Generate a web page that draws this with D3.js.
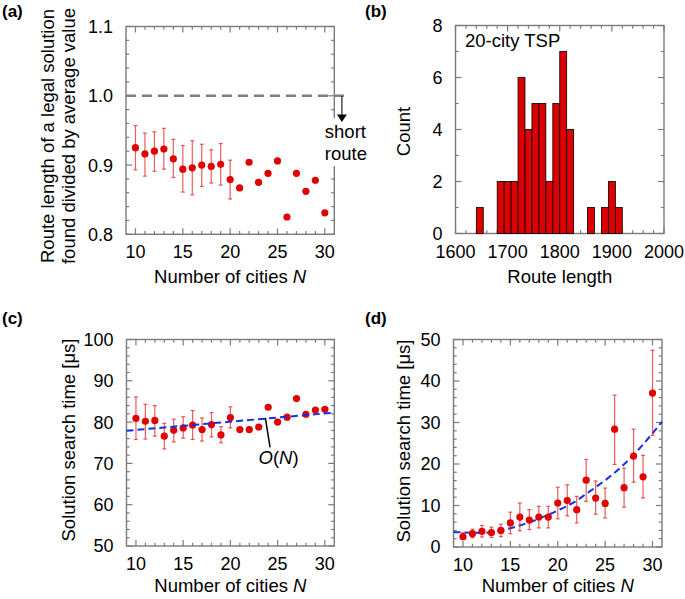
<!DOCTYPE html>
<html><head><meta charset="utf-8">
<script src="https://cdn.jsdelivr.net/npm/d3@7"></script>
<style>
body{margin:0;background:#fff}
svg{display:block}
text{font-family:"Liberation Sans", Arial, Helvetica, sans-serif; fill:#000}
</style>
</head><body>
<svg id="fig" width="685" height="599"></svg>
<script>
// ---------- data ----------
const cities = [10,11,12,13,14,15,16,17,18,19,20,21,22,23,24,25,26,27,28,29,30];

// (a) route length / average
const ratioMean  = [0.925,0.916,0.920,0.923,0.909,0.894,0.896,0.900,0.898,0.901,0.879,0.867,0.904,0.875,0.888,0.906,0.825,0.888,0.862,0.878,0.831];
const ratioUpper = [0.957,0.946,0.948,0.953,0.937,0.928,0.935,0.930,0.922,0.931,0.907,null,null,null,null,null,null,null,null,null,null];
const ratioLower = [0.893,0.884,0.891,0.894,0.882,0.861,0.857,0.869,0.874,0.871,0.851,null,null,null,null,null,null,null,null,null,null];
const averageLevel = 1.0;

// (b) histogram, 20-city TSP
const binStart = [1640,1680,1693.3,1706.7,1720,1733.3,1746.7,1760,1773.3,1786.7,1800,1813.3,1853.3,1880,1893.3,1906.7];
const binEnd   = [1653.3,1693.3,1706.7,1720,1733.3,1746.7,1760,1773.3,1786.7,1800,1813.3,1826.7,1866.7,1893.3,1906.7,1920];
const binCount = [1,2,2,2,6,4,5,5,2,5,7,4,1,1,2,1];

// (c) solution search time (O(N) region)
const timeC      = [80.9,80.2,80.4,76.6,78.0,78.6,79.3,78.2,79.4,76.9,81.1,78.2,78.2,78.8,83.6,80.0,81.2,85.7,81.9,82.9,83.1];
const timeCUpper = [86.1,84.3,84.0,79.7,80.7,81.3,82.8,81.0,82.3,78.9,83.7,null,null,null,null,null,null,null,null,null,null];
const timeCLower = [75.8,75.9,76.6,73.5,75.2,76.1,75.8,75.4,76.4,75.0,78.6,null,null,null,null,null,null,null,null,null,null];
const fitCN = [9, 31];
const fitCT = [77.9, 82.3];

// (d) solution search time
const timeD      = [2.5,3.2,3.8,3.5,4.0,5.8,7.2,6.5,7.2,7.2,10.6,11.2,9.0,16.1,11.8,10.5,28.4,14.3,21.9,16.9,37.1];
const timeDUpper = [3.4,4.3,5.2,4.8,5.5,8.4,10.6,9.0,9.8,9.8,14.4,15.0,12.2,21.1,15.9,14.2,36.6,19.0,28.4,22.1,47.4];
const timeDLower = [1.8,2.2,2.4,2.3,2.5,3.2,3.9,4.2,4.6,4.6,6.8,7.5,5.8,11.0,7.9,7.0,19.9,9.6,15.6,11.8,26.9];
const fitDN = [9,12,14,16,18,20,22,23,24,26,28,30,31];
const fitDT = [3.6,3.4,4.0,5.2,6.8,8.8,11.2,12.8,14.4,17.9,22.2,27.4,30.2];

// ticks
const nTicks = [10,15,20,25,30];
const ratioTicks = [0.8,0.9,1.0,1.1];
const lengthTicks = [1600,1700,1800,1900,2000];
const countTicks = [0,2,4,6,8];
const timeCTicks = [50,60,70,80,90,100];
const timeDTicks = [0,10,20,30,40,50];

// ---------- drawing ----------
const svg = d3.select("#fig");
const FRAME = "#7b7b7b";
const RED = "#e10000";
const ERR = "rgba(228,30,30,0.72)";
const BLUE = "#1530e8";
const TICKFS = 18, TITLEFS = 18.5;

function frame(x, y, xMaj, xMin, yMaj, yMin, fx, fy) {
  const g = svg.append("g");
  const [x0, x1] = x.range(), [y0, y1] = y.range(); // y0 bottom, y1 top
  const L = 6, l = 3.2;
  xMin.forEach(v => {
    const isMaj = xMaj.some(m => Math.abs(m - v) < 1e-9);
    const len = isMaj ? L : l;
    g.append("line").attr("x1", x(v)).attr("x2", x(v)).attr("y1", y0).attr("y2", y0 - len);
    g.append("line").attr("x1", x(v)).attr("x2", x(v)).attr("y1", y1).attr("y2", y1 + len);
  });
  yMin.forEach(v => {
    const isMaj = yMaj.some(m => Math.abs(m - v) < 1e-9);
    const len = isMaj ? L : l;
    g.append("line").attr("y1", y(v)).attr("y2", y(v)).attr("x1", x0).attr("x2", x0 + len);
    g.append("line").attr("y1", y(v)).attr("y2", y(v)).attr("x1", x1).attr("x2", x1 - len);
  });
  g.selectAll("line").attr("stroke", FRAME).attr("stroke-width", 1.2);
  g.append("rect").attr("x", x0).attr("y", y1).attr("width", x1 - x0).attr("height", y0 - y1)
    .attr("fill", "none").attr("stroke", FRAME).attr("stroke-width", 1.4);
  xMaj.forEach(v => g.append("text").attr("x", x(v)).attr("y", y0 + 24)
    .attr("text-anchor", "middle").attr("font-size", TICKFS).text(fx(v)));
  yMaj.forEach(v => g.append("text").attr("x", x0 - 13).attr("y", y(v)).attr("dy", "0.36em")
    .attr("text-anchor", "end").attr("font-size", TICKFS).text(fy(v)));
  return g;
}

function errorBars(x, y, lo, hi) {
  const idx = cities.map((c, i) => i).filter(i => lo[i] != null);
  const g = svg.append("g").attr("stroke", ERR).attr("stroke-width", 1.2);
  idx.forEach(i => {
    const cx = x(cities[i]);
    g.append("line").attr("x1", cx).attr("x2", cx).attr("y1", y(lo[i])).attr("y2", y(hi[i]));
    g.append("line").attr("x1", cx - 2).attr("x2", cx + 2).attr("y1", y(lo[i])).attr("y2", y(lo[i]));
    g.append("line").attr("x1", cx - 2).attr("x2", cx + 2).attr("y1", y(hi[i])).attr("y2", y(hi[i]));
  });
}

function dots(x, y, vals) {
  svg.append("g").selectAll("circle").data(vals).join("circle")
    .attr("cx", (d, i) => x(cities[i])).attr("cy", d => y(d)).attr("r", 3.6).attr("fill", RED);
}

function yTitle(lines, cy) {
  lines.forEach(t => {
    svg.append("text").attr("transform", `translate(${t.x},${cy}) rotate(-90)`)
      .attr("text-anchor", "middle").attr("dy", "0.35em").attr("font-size", TITLEFS).text(t.s);
  });
}

function nTitle(x0, x1, yb) {
  const t = svg.append("text").attr("x", (x0 + x1) / 2).attr("y", yb).attr("text-anchor", "middle").attr("font-size", TITLEFS);
  t.append("tspan").text("Number of cities ");
  t.append("tspan").attr("font-style", "italic").text("N");
}

const d1 = d => d.toFixed(1);
const d0 = d => String(d);
const nMinor = d3.range(10, 31, 1);

// ----- panel (a) -----
{
  const x = d3.scaleLinear().domain([9, 31]).range([126, 334.3]);
  const y = d3.scaleLinear().domain([0.8, 1.1]).range([234.3, 26.5]);
  frame(x, y, nTicks, nMinor, ratioTicks, d3.range(0.8, 1.1001, 0.02).map(v => +v.toFixed(2)), d0, d1);
  svg.append("line").attr("x1", x(9)).attr("x2", x(32.2)).attr("y1", y(averageLevel)).attr("y2", y(averageLevel))
    .attr("stroke", "#7f7f7f").attr("stroke-width", 2.6).attr("stroke-dasharray", "10,6");
  errorBars(x, y, ratioLower, ratioUpper);
  dots(x, y, ratioMean);
  svg.append("rect").attr("x", 322).attr("y", 118).attr("width", 60).attr("height", 48).attr("fill", "#fff");
  svg.append("text").attr("x", x(30.0)).attr("y", 137.5).attr("font-size", TITLEFS).text("short");
  svg.append("text").attr("x", x(30.0)).attr("y", 160).attr("font-size", TITLEFS).text("route");
  const ax = x(31.8);
  svg.append("line").attr("x1", ax).attr("x2", ax).attr("y1", y(averageLevel)).attr("y2", y(0.972))
    .attr("stroke", "#333").attr("stroke-width", 1.3);
  svg.append("path").attr("d", `M${ax - 5},${y(0.973)} L${ax + 5},${y(0.973)} L${ax},${y(0.962)} Z`).attr("fill", "#000");
  yTitle([{x: 47.5, s: "Route length of a legal solution"}, {x: 68.5, s: "found divided by average value"}], 136);
  nTitle(126, 334.3, 282.5);
  svg.append("text").attr("x", 2).attr("y", 17).attr("font-size", 17).attr("font-weight", "bold").text("(a)");
}

// ----- panel (b) -----
{
  const x = d3.scaleLinear().domain([1600, 2000]).range([455.5, 664]);
  const y = d3.scaleLinear().domain([0, 8]).range([233.5, 25.5]);
  frame(x, y, lengthTicks, d3.range(1600, 2001, 20), countTicks, d3.range(0, 9, 1), d0, d0);
  svg.append("g").selectAll("rect").data(binCount).join("rect")
    .attr("x", (d, i) => x(binStart[i])).attr("width", (d, i) => x(binEnd[i]) - x(binStart[i]))
    .attr("y", d => y(d)).attr("height", d => y(0) - y(d))
    .attr("fill", "#dd0000").attr("stroke", "#000").attr("stroke-width", 0.8);
  svg.append("text").attr("x", 465).attr("y", 47).attr("font-size", TITLEFS).text("20-city TSP");
  yTitle([{x: 404, s: "Count"}], 131.5);
  svg.append("text").attr("x", (455.5 + 664) / 2).attr("y", 282.5).attr("text-anchor", "middle").attr("font-size", TITLEFS).text("Route length");
  svg.append("text").attr("x", 365).attr("y", 17).attr("font-size", 17).attr("font-weight", "bold").text("(b)");
}

// ----- panel (c) -----
{
  const x = d3.scaleLinear().domain([9, 31]).range([126.5, 334.3]);
  const y = d3.scaleLinear().domain([50, 100]).range([546, 339.5]);
  frame(x, y, nTicks, nMinor, timeCTicks, d3.range(50, 101, 2), d0, d0);
  errorBars(x, y, timeCLower, timeCUpper);
  dots(x, y, timeC);
  svg.append("path").datum(fitCN.map((n, i) => [n, fitCT[i]]))
    .attr("d", d3.line().x(d => x(d[0])).y(d => y(d[1])))
    .attr("fill", "none").attr("stroke", BLUE).attr("stroke-width", 2).attr("stroke-dasharray", "7,4");
  svg.append("line").attr("x1", x(23.7)).attr("y1", y(81.0)).attr("x2", x(24.2)).attr("y2", y(73.9))
    .attr("stroke", "#000").attr("stroke-width", 1.5);
  const t = svg.append("text").attr("x", x(25.1)).attr("y", y(69.8)).attr("text-anchor", "middle").attr("font-size", TITLEFS);
  t.append("tspan").attr("font-style", "italic").text("O");
  t.append("tspan").text("(");
  t.append("tspan").attr("font-style", "italic").text("N");
  t.append("tspan").text(")");
  yTitle([{x: 68.5, s: "Solution search time [μs]"}], 440);
  nTitle(126.5, 334.3, 592);
  svg.append("text").attr("x", 2).attr("y", 323.5).attr("font-size", 17).attr("font-weight", "bold").text("(c)");
}

// ----- panel (d) -----
{
  const x = d3.scaleLinear().domain([9, 31]).range([453.5, 662]);
  const y = d3.scaleLinear().domain([0, 50]).range([547, 339.5]);
  frame(x, y, nTicks, nMinor, timeDTicks, d3.range(0, 51, 2), d0, d0);
  svg.append("path").datum(fitDN.map((n, i) => [n, fitDT[i]]))
    .attr("d", d3.line().curve(d3.curveMonotoneX).x(d => x(d[0])).y(d => y(d[1])))
    .attr("fill", "none").attr("stroke", BLUE).attr("stroke-width", 2).attr("stroke-dasharray", "7,4");
  errorBars(x, y, timeDLower, timeDUpper);
  dots(x, y, timeD);
  yTitle([{x: 403.5, s: "Solution search time [μs]"}], 441);
  nTitle(453.5, 662, 592);
  svg.append("text").attr("x", 365).attr("y", 323.5).attr("font-size", 17).attr("font-weight", "bold").text("(d)");
}
</script>
</body></html>
